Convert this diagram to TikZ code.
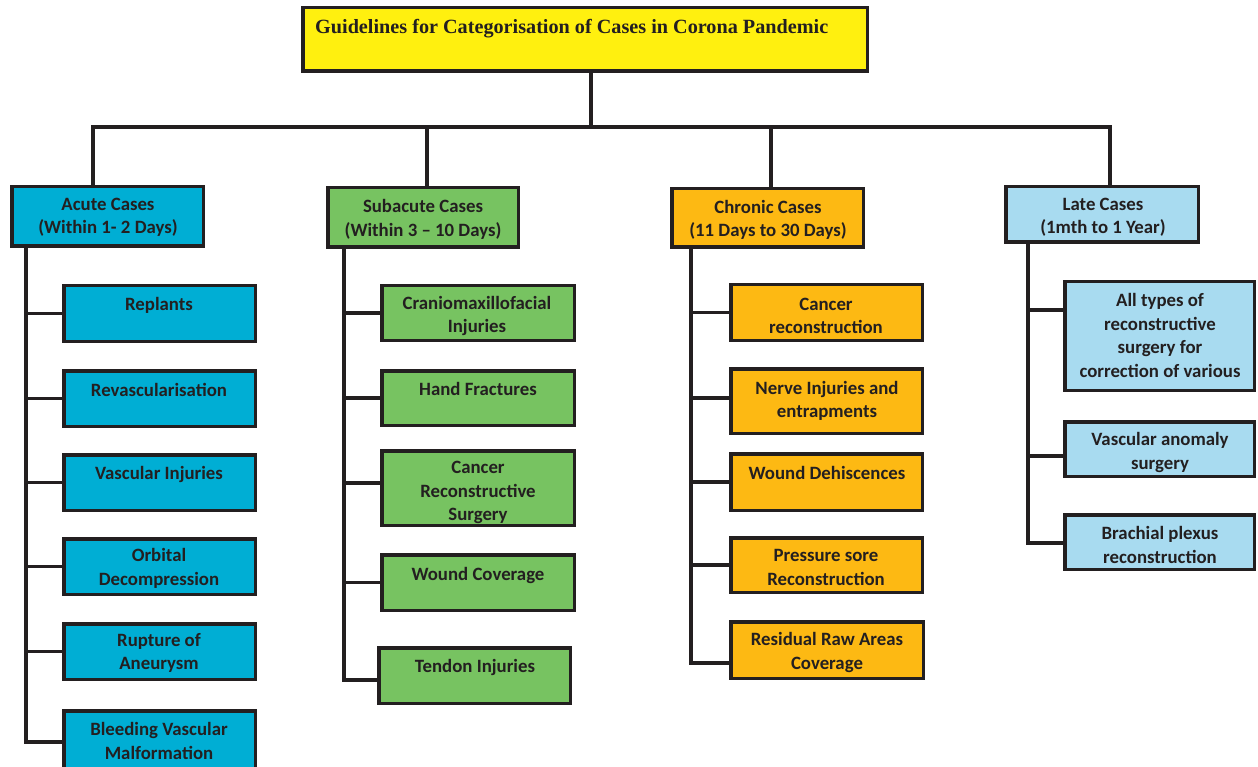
\documentclass[tikz,border=0pt]{standalone}
\usepackage{fontspec}
\setmainfont{Carlito}
\newfontfamily\titlefont{Liberation Serif}
\definecolor{ink}{HTML}{231F20}
\definecolor{ttlY}{HTML}{FFF00F}
\definecolor{acuteC}{HTML}{00AED4}
\definecolor{subC}{HTML}{77C361}
\definecolor{chronC}{HTML}{FDB913}
\definecolor{lateC}{HTML}{A8DBF0}
\tikzset{
  box/.style={draw=ink, line width=3.5pt, rectangle, inner sep=0pt, anchor=north west},
  txt/.style={text=ink, font=\fontsize{18.8}{23.5}\selectfont\bfseries, align=center, inner sep=0pt},
  conn/.style={draw=ink, line width=3.5pt, line cap=butt, line join=miter}
}
\begin{document}
\begin{tikzpicture}[x=1pt,y=-1pt]
\useasboundingbox (0,0) rectangle (1258,767);
% title
\node[box, fill=ttlY, minimum width=564.5, minimum height=63.5] (title) at (301,6) {};
\node[text=ink, font=\titlefont\fontsize{20.2}{22}\selectfont\bfseries, anchor=west, inner sep=0pt] (ttxt) at (315,28.5) {Guidelines for Categorisation of Cases in Corona Pandemic};
% categories
\node[box, fill=acuteC, minimum width=191.5, minimum height=59.5] (acute) at (10,185) {};
\node[txt] (tacute) at (108,217.5) {Acute Cases\\(Within 1- 2 Days)};
\node[box, fill=subC, minimum width=190.5, minimum height=59.5] (sub) at (326,186) {};
\node[txt] (tsub) at (423,219.5) {Subacute Cases\\(Within 3 -- 10 Days)};
\node[box, fill=chronC, minimum width=191.5, minimum height=58.5] (chron) at (670,187) {};
\node[txt] (tchron) at (768,220) {Chronic Cases\\(11 Days to 30 Days)};
\node[box, fill=lateC, minimum width=192.5, minimum height=55.5] (late) at (1004,185) {};
\node[txt] (tlate) at (1103,217.5) {Late Cases\\(1mth to 1 Year)};
% acute children
\node[box, fill=acuteC, minimum width=191.5, minimum height=55.5] (a1) at (62,284) {};
\node[txt] at (159,305) {Replants};
\node[box, fill=acuteC, minimum width=191.5, minimum height=55.5] (a2) at (62,369) {};
\node[txt] at (159,390) {Revascularisation};
\node[box, fill=acuteC, minimum width=191.5, minimum height=55.5] (a3) at (62,453) {};
\node[txt] at (159,474) {Vascular Injuries};
\node[box, fill=acuteC, minimum width=191.5, minimum height=55.5] (a4) at (62,537) {};
\node[txt] at (159,568.5) {Orbital\\Decompression};
\node[box, fill=acuteC, minimum width=191.5, minimum height=55.5] (a5) at (62,622) {};
\node[txt] at (159,653) {Rupture of\\Aneurysm};
\node[box, fill=acuteC, minimum width=191.5, minimum height=62] (a6) at (62,709) {};
\node[txt] at (159,741) {Bleeding Vascular\\Malformation};
% subacute children
\node[box, fill=subC, minimum width=192.5, minimum height=54.5] (b1) at (380,284) {};
\node[txt] at (477,316) {Craniomaxillofacial\\Injuries};
\node[box, fill=subC, minimum width=192.5, minimum height=54.5] (b2) at (380,369) {};
\node[txt] at (478,389) {Hand Fractures};
\node[box, fill=subC, minimum width=192.5, minimum height=74.5] (b3) at (380,449) {};
\node[txt] at (478,492.5) {Cancer\\Reconstructive\\Surgery};
\node[box, fill=subC, minimum width=192.5, minimum height=55.5] (b4) at (380,553) {};
\node[txt] at (478,575) {Wound Coverage};
\node[box, fill=subC, minimum width=191.5, minimum height=55.5] (b5) at (377,646) {};
\node[txt] at (475,667) {Tendon Injuries};
% chronic children
\node[box, fill=chronC, minimum width=191.5, minimum height=55.5] (c1) at (729,283) {};
\node[txt] at (826,316) {Cancer\\reconstruction};
\node[box, fill=chronC, minimum width=191.5, minimum height=64.5] (c2) at (729,367) {};
\node[txt] at (827,401) {Nerve Injuries and\\entrapments};
\node[box, fill=chronC, minimum width=191.5, minimum height=56.5] (c3) at (729,452) {};
\node[txt] at (827,473) {Wound Dehiscences};
\node[box, fill=chronC, minimum width=191.5, minimum height=54.5] (c4) at (729,536) {};
\node[txt] at (826,567.5) {Pressure sore\\Reconstruction};
\node[box, fill=chronC, minimum width=192.5, minimum height=56.5] (c5) at (729,620) {};
\node[txt] at (827,652.5) {Residual Raw Areas\\Coverage};
% late children
\node[box, fill=lateC, minimum width=189.5, minimum height=108.5] (d1) at (1063,280) {};
\node[txt] at (1160,335.5) {All types of\\reconstructive\\surgery for\\correction of various};
\node[box, fill=lateC, minimum width=189.5, minimum height=54.5] (d2) at (1063,420) {};
\node[txt] at (1160,452.5) {Vascular anomaly\\surgery};
\node[box, fill=lateC, minimum width=189.5, minimum height=54.5] (d3) at (1063,513) {};
\node[txt] at (1160,545) {Brachial plexus\\reconstruction};
% top connectors
\coordinate (barL) at (93,127);
\coordinate (barR) at (1110,127);
\coordinate (drop1) at (591,127);
\coordinate (drop2) at (427,127);
\coordinate (drop3) at (771,127);
\draw[conn] (drop1 |- title.south) -- (drop1);
\draw[conn] (acute.north -| barL) -- (barL) -- (barR) -- (barR |- late.north);
\draw[conn] (drop2) -- (drop2 |- sub.north);
\draw[conn] (drop3) -- (drop3 |- chron.north);
% spines
\coordinate (sA) at (26,0);
\coordinate (sB) at (344,0);
\coordinate (sC) at (691,0);
\coordinate (sD) at (1028,0);
\draw[conn] ([yshift=3pt]acute.south -| sA) -- (a6.west -| sA) -- (a6.west);
\foreach \n in {a1,a2,a3,a4,a5} \draw[conn] (\n.west -| sA) -- (\n.west);
\draw[conn] ([yshift=3pt]sub.south -| sB) -- ([yshift=-4.5pt]b5.west -| sB) -- ([yshift=-4.5pt]b5.west);
\draw[conn] (b1.west -| sB) -- (b1.west);
\draw[conn] (b2.west -| sB) -- (b2.west);
\draw[conn] ([yshift=5pt]b3.west -| sB) -- ([yshift=5pt]b3.west);
\draw[conn] (b4.west -| sB) -- (b4.west);
\draw[conn] ([yshift=3pt]chron.south -| sC) -- ([yshift=-13pt]c5.west -| sC) -- ([yshift=-13pt]c5.west);
\draw[conn] (c1.west -| sC) -- (c1.west);
\draw[conn] ([yshift=3pt]c2.west -| sC) -- ([yshift=3pt]c2.west);
\draw[conn] (c3.west -| sC) -- (c3.west);
\draw[conn] (c4.west -| sC) -- (c4.west);
\draw[conn] ([yshift=3pt]late.south -| sD) -- ([yshift=-1pt]d3.west -| sD) -- ([yshift=-1pt]d3.west);
\draw[conn] ([yshift=26pt]d1.west -| sD) -- ([yshift=26pt]d1.west);
\draw[conn] ([yshift=-7pt]d2.west -| sD) -- ([yshift=-7pt]d2.west);
\end{tikzpicture}
\end{document}
